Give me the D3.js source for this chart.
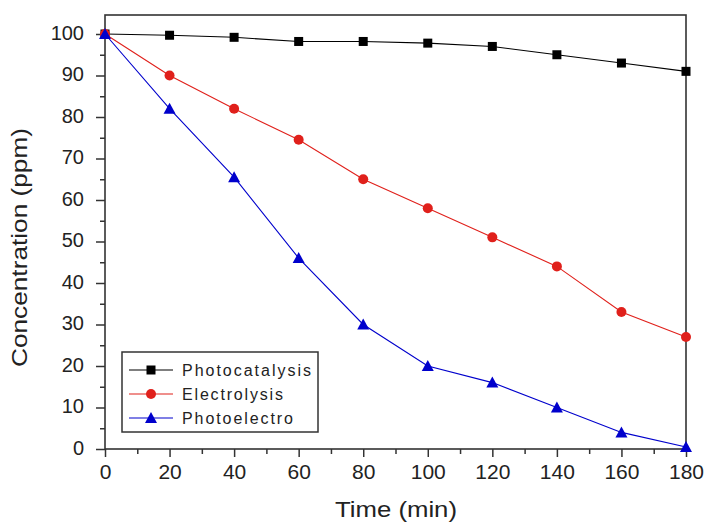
<!DOCTYPE html>
<html><head><meta charset="utf-8">
<script src="https://cdn.jsdelivr.net/npm/d3@7"></script>
<style>body{margin:0;background:#fff}svg{display:block}</style>
</head><body>
<svg id="c" width="707" height="524"></svg>
<script>
const times = [0,20,40,60,80,100,120,140,160,180];
const photocatalysis = [100,99.7,99.2,98.2,98.2,97.8,97,95,93,91];
const electrolysis = [100,90,82,74.5,65,58,51,44,33,27];
const photoelectro = [100,82,65.5,46,30,20,16,10,4,0.5];
const seriesNames = ["Photocatalysis","Electrolysis","Photoelectro"];
const seriesColors = ["#000000","#e0201b","#0000cc"];
const seriesShapes = ["square","circle","triangle"];
const xTicks = [0,20,40,60,80,100,120,140,160,180];
const yTicks = [0,10,20,30,40,50,60,70,80,90,100];

const svg = d3.select("#c");
const L=105, R=686, T=15, B=449;
const x = d3.scaleLinear().domain([0,180]).range([L,R]);
const y = d3.scaleLinear().domain([0,100]).range([B,34]);
const axisColor="#333";
const FF="Liberation Sans, Arial, sans-serif";

// x axis
const xa = svg.append("g").attr("transform",`translate(0,${B})`)
  .call(d3.axisBottom(x).tickValues(xTicks).tickSize(8).tickSizeOuter(0).tickPadding(7));
const xminor = svg.append("g").attr("transform",`translate(0,${B})`)
  .call(d3.axisBottom(x).tickValues(d3.range(10,180,20)).tickSize(5).tickFormat(""));
// y axis
const ya = svg.append("g").attr("transform",`translate(${L},0)`)
  .call(d3.axisLeft(y).tickValues(yTicks).tickSize(9).tickSizeOuter(0).tickPadding(12));
const yminor = svg.append("g").attr("transform",`translate(${L},0)`)
  .call(d3.axisLeft(y).tickValues(d3.range(5,100,10)).tickSize(5).tickFormat(""));
[xa,xminor,ya,yminor].forEach(g=>{
  g.selectAll("path").remove();
  g.selectAll("line").attr("stroke",axisColor).attr("stroke-width",1.5);
  g.selectAll("text").attr("font-family",FF).attr("fill","#222");
});
xa.selectAll("text").attr("font-size",21);
ya.selectAll("text").attr("font-size",20).attr("dy","0.27em");
// frame
svg.append("rect").attr("x",L).attr("y",T).attr("width",R-L).attr("height",B-T)
  .attr("fill","none").attr("stroke",axisColor).attr("stroke-width",1.6);

// axis titles
svg.append("text").attr("x",396).attr("y",517).attr("text-anchor","middle")
  .attr("font-family",FF).attr("font-size",22).attr("textLength",122).attr("lengthAdjust","spacingAndGlyphs")
  .attr("fill","#222").text("Time (min)");
svg.append("text").attr("transform",`translate(27,247.5) rotate(-90)`).attr("text-anchor","middle")
  .attr("font-family",FF).attr("font-size",22).attr("textLength",239).attr("lengthAdjust","spacingAndGlyphs")
  .attr("fill","#222").text("Concentration (ppm)");

const data=[photocatalysis,electrolysis,photoelectro];
const line=d3.line().x((d,i)=>x(times[i])).y(d=>y(d));
function marker(g,shape,cx,cy,color){
  if(shape==="square") g.append("rect").attr("x",cx-4.5).attr("y",cy-4.5).attr("width",9).attr("height",9).attr("fill",color);
  else if(shape==="circle") g.append("circle").attr("cx",cx).attr("cy",cy).attr("r",5).attr("fill",color);
  else g.append("path").attr("d",`M${cx},${cy-6}L${cx+6},${cy+5}L${cx-6},${cy+5}Z`).attr("fill",color);
}
data.forEach((vals,k)=>{
  const g=svg.append("g");
  g.append("path").attr("d",line(vals)).attr("fill","none").attr("stroke",seriesColors[k]).attr("stroke-width",1.1);
  vals.forEach((v,i)=>marker(g,seriesShapes[k],x(times[i]),y(v),seriesColors[k]));
});

// legend
const legendLens=[129,101,111];
const lg=svg.append("g");
lg.append("rect").attr("x",122).attr("y",352).attr("width",196).attr("height",80)
  .attr("fill","#fff").attr("stroke",axisColor).attr("stroke-width",1.5);
seriesNames.forEach((n,k)=>{
  const cy=370+k*24;
  lg.append("line").attr("x1",129).attr("x2",173).attr("y1",cy).attr("y2",cy).attr("stroke",seriesColors[k]).attr("stroke-width",1.1);
  marker(lg,seriesShapes[k],151,cy,seriesColors[k]);
  lg.append("text").attr("x",182).attr("y",cy+6).attr("font-family",FF)
    .attr("font-size",16).attr("textLength",legendLens[k]).attr("lengthAdjust","spacing")
    .attr("fill","#222").text(n);
});
</script>
</body></html>
